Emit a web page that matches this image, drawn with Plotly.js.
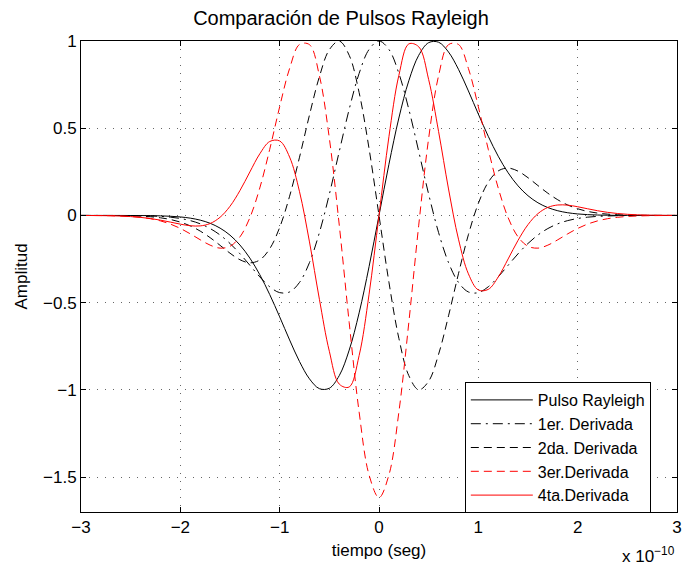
<!DOCTYPE html>
<html>
<head>
<meta charset="utf-8">
<script src="https://cdn.plot.ly/plotly-3.0.1.min.js"></script>
<style>
  html, body { margin: 0; padding: 0; background: #fff; }
  #chart { width: 682px; height: 569px; }
</style>
</head>
<body>
<div id="chart"></div>
<script>
// time axis, in units of 1e-10 s
const tiempo = [-3.0, -2.9, -2.8, -2.7, -2.6, -2.5, -2.4, -2.3, -2.2, -2.1, -2.0, -1.9, -1.8, -1.7, -1.6, -1.5, -1.4, -1.3, -1.2, -1.1, -1.0, -0.9, -0.8, -0.7, -0.6, -0.5, -0.4, -0.3, -0.2, -0.1,
  0.0, 0.1, 0.2, 0.3, 0.4, 0.5, 0.6, 0.7, 0.8, 0.9, 1.0, 1.1, 1.2, 1.3, 1.4, 1.5, 1.6, 1.7, 1.8, 1.9, 2.0, 2.1, 2.2, 2.3, 2.4, 2.5, 2.6, 2.7, 2.8, 2.9, 3.0];

const pulsoRayleigh = [0, 0, 0, 0, -0.0001, -0.0003, -0.0006, -0.0012, -0.0024, -0.0046, -0.0086, -0.0155, -0.0269, -0.0450, -0.0726, -0.1130, -0.1694, -0.2445, -0.3397, -0.4536, -0.5813, -0.7137, -0.8377, -0.9367, -0.9930, -0.9906, -0.9181, -0.7720, -0.5585, -0.2933,
  0, 0.2933, 0.5585, 0.7720, 0.9181, 0.9906, 0.9930, 0.9367, 0.8377, 0.7137, 0.5813, 0.4536, 0.3397, 0.2445, 0.1694, 0.1130, 0.0726, 0.0450, 0.0269, 0.0155, 0.0086, 0.0046, 0.0024, 0.0012, 0.0006, 0.0003, 0.0001, 0, 0, 0, 0];

const derivada1 = [0, 0, 0, -0.0001, -0.0003, -0.0007, -0.0015, -0.0029, -0.0054, -0.0099, -0.0175, -0.0295, -0.0480, -0.0750, -0.1121, -0.1606, -0.2195, -0.2856, -0.3522, -0.4089, -0.4425, -0.4385, -0.3838, -0.2703, -0.0984, 0.1213, 0.3671, 0.6091, 0.8142, 0.9516,
  1.0, 0.9516, 0.8142, 0.6091, 0.3671, 0.1213, -0.0984, -0.2703, -0.3838, -0.4385, -0.4425, -0.4089, -0.3522, -0.2856, -0.2195, -0.1606, -0.1121, -0.0750, -0.0480, -0.0295, -0.0175, -0.0099, -0.0054, -0.0029, -0.0015, -0.0007, -0.0003, -0.0001, 0, 0, 0];

const derivada2 = [0, -0.0001, -0.0002, -0.0005, -0.0010, -0.0021, -0.0041, -0.0075, -0.0135, -0.0232, -0.0382, -0.0599, -0.0896, -0.1274, -0.1713, -0.2163, -0.2538, -0.2715, -0.2551, -0.1907, -0.0689, 0.1102, 0.3340, 0.5754, 0.7955, 0.9501, 0.9993, 0.9180, 0.7043, 0.3825,
  0, -0.3825, -0.7043, -0.9180, -0.9993, -0.9501, -0.7955, -0.5754, -0.3340, -0.1102, 0.0689, 0.1907, 0.2551, 0.2715, 0.2538, 0.2163, 0.1713, 0.1274, 0.0896, 0.0599, 0.0382, 0.0232, 0.0135, 0.0075, 0.0041, 0.0021, 0.0010, 0.0005, 0.0002, 0.0001, 0];

const derivada3 = [-0.0001, -0.0003, -0.0007, -0.0015, -0.0031, -0.0059, -0.0107, -0.0187, -0.0313, -0.0496, -0.0745, -0.1054, -0.1394, -0.1703, -0.1874, -0.1768, -0.1230, -0.0130, 0.1577, 0.3791, 0.6230, 0.8427, 0.9802, 0.9791, 0.8012, 0.4430, -0.0559, -0.6146, -1.1273, -1.4876,
  -1.6174, -1.4876, -1.1273, -0.6146, -0.0559, 0.4430, 0.8012, 0.9791, 0.9802, 0.8427, 0.6230, 0.3791, 0.1577, -0.0130, -0.1230, -0.1768, -0.1874, -0.1703, -0.1394, -0.1054, -0.0745, -0.0496, -0.0313, -0.0187, -0.0107, -0.0059, -0.0031, -0.0015, -0.0007, -0.0003, -0.0001];

const derivada4 = [-0.0002, -0.0005, -0.0010, -0.0019, -0.0036, -0.0065, -0.0111, -0.0178, -0.0270, -0.0382, -0.0499, -0.0589, -0.0600, -0.0462, -0.0104, 0.0526, 0.1424, 0.2494, 0.3533, 0.4239, 0.4271, 0.3347, 0.1360, -0.1517, -0.4805, -0.7785, -0.9669, -0.9833, -0.8031, -0.4514,
  0, 0.4514, 0.8031, 0.9833, 0.9669, 0.7785, 0.4805, 0.1517, -0.1360, -0.3347, -0.4271, -0.4239, -0.3533, -0.2494, -0.1424, -0.0526, 0.0104, 0.0462, 0.0600, 0.0589, 0.0499, 0.0382, 0.0270, 0.0178, 0.0111, 0.0065, 0.0036, 0.0019, 0.0010, 0.0005, 0.0002];

const seriesNames = ['Pulso Rayleigh', '1er. Derivada', '2da. Derivada', '3er.Derivada', '4ta.Derivada'];
const xTickVals = [-3, -2, -1, 0, 1, 2, 3];
const yTickVals = [-1.5, -1, -0.5, 0, 0.5, 1];

const FONT = '"Liberation Sans", Arial, Helvetica, sans-serif';

function tr(y, name, color, dash) {
  return {
    x: tiempo, y: y, name: name, type: 'scatter', mode: 'lines',
    line: { color: color, width: 1, dash: dash, shape: 'spline', smoothing: 1 }
  };
}

const data = [
  tr(pulsoRayleigh, seriesNames[0], '#000000', 'solid'),
  tr(derivada1, seriesNames[1], '#000000', '10px,5px,2px,5px'),
  tr(derivada2, seriesNames[2], '#000000', '8px,5px'),
  tr(derivada3, seriesNames[3], '#ff0000', '8px,5px'),
  tr(derivada4, seriesNames[4], '#ff0000', 'solid')
];

const axisCommon = {
  showline: true, linecolor: '#000', linewidth: 1, mirror: 'ticks',
  ticks: 'inside', ticklen: 5, tickcolor: '#000', tickwidth: 1,
  showgrid: true, gridcolor: '#666', griddash: '1px,7px', gridwidth: 1,
  zeroline: false,
  tickfont: { family: FONT, size: 17, color: '#000' }
};

const layout = {
  width: 682, height: 569,
  margin: { l: 81, r: 5, t: 41, b: 57 },
  paper_bgcolor: '#fff', plot_bgcolor: '#fff',
  font: { family: FONT, color: '#000' },
  title: { text: 'Comparación de Pulsos Rayleigh', font: { family: FONT, size: 20, color: '#000' }, x: 0.5, xanchor: 'center', y: 0.968, yanchor: 'middle' },
  xaxis: Object.assign({}, axisCommon, {
    range: [-3, 3], tickvals: xTickVals, ticktext: xTickVals.map(v => v < 0 ? '\u2212' + Math.abs(v) : String(v)),
    title: { text: 'tiempo (seg)', font: { family: FONT, size: 17, color: '#000' }, standoff: 7 }
  }),
  yaxis: Object.assign({}, axisCommon, {
    range: [-1.7, 1], tickvals: yTickVals, ticktext: yTickVals.map(v => v < 0 ? '\u2212' + Math.abs(v) : String(v)),
    title: { text: 'Amplitud', font: { family: FONT, size: 17, color: '#000' }, standoff: 11 }
  }),
  showlegend: true,
  legend: {
    x: 0.644, y: 0.276, xanchor: 'left', yanchor: 'top',
    bgcolor: '#fff', bordercolor: '#000', borderwidth: 1,
    font: { family: FONT, size: 16, color: '#000' },
    tracegroupgap: 0, itemwidth: 62
  },
  annotations: [{
    xref: 'paper', yref: 'paper', x: 1.0, y: -0.091, xanchor: 'right', yanchor: 'middle',
    text: 'x 10<sup>\u221210</sup>', showarrow: false,
    font: { family: FONT, size: 17, color: '#000' }
  }]
};

Plotly.newPlot('chart', data, layout, { displayModeBar: false, staticPlot: true });
</script>
</body>
</html>
